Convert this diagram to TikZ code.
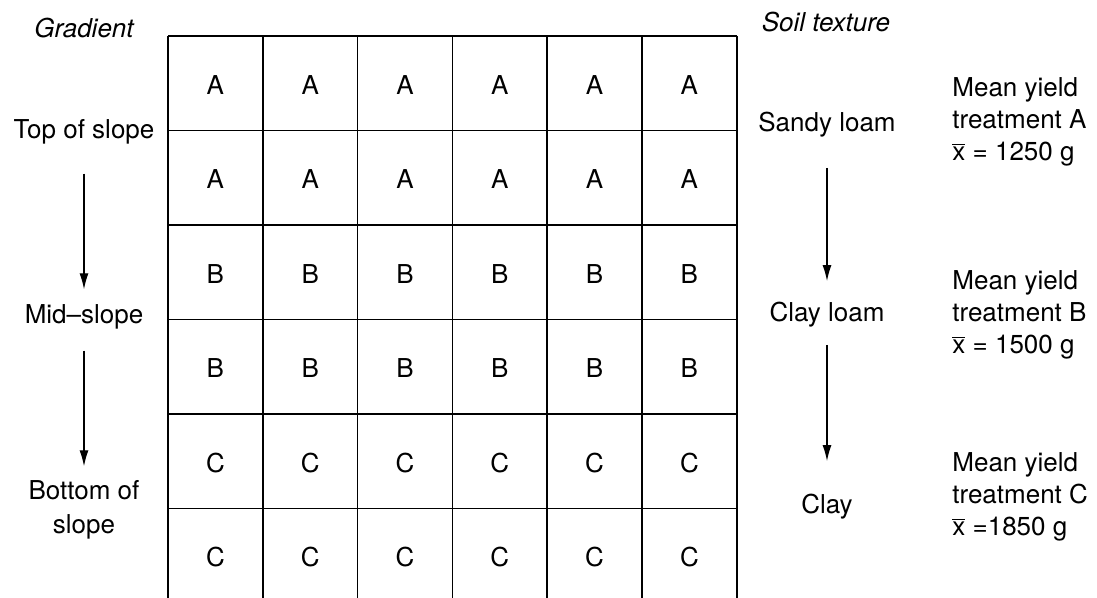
\documentclass[tikz,border=0pt]{standalone}
\usepackage{fontspec}
\setmainfont{TeX Gyre Heros}
\usetikzlibrary{arrows.meta,positioning}

\begin{document}
\begin{tikzpicture}[
  x=0.5pt, y=-0.5pt,
  font=\fontsize{13}{16}\selectfont,
  >={Latex[length=8pt,width=4.5pt]},
  lbl/.style={inner sep=0pt, align=center},
  head/.style={lbl, font=\fontsize{13}{16}\selectfont\itshape},
  yield/.style={inner sep=0pt, anchor=west, align=left},
  plot/.style={line width=0.8pt},
  arr/.style={->, line width=0.6pt}
]
  \useasboundingbox (0,0) rectangle (1097,598);

  % Field grid: 6 columns, 6 rows (bottom runs off the page)
  \foreach \j in {0,...,5}
    \draw[plot] (168,36+\j*94.5) -- (736.8,36+\j*94.5);
  \foreach \i in {0,...,6}
    \draw[plot] (168+\i*94.8,36) -- (168+\i*94.8,598);

  % Treatment letters
  \foreach \j/\t in {0/A,1/A,2/B,3/B,4/C,5/C}
    \foreach \i in {0,...,5}
      \node[lbl] (cell-\j-\i) at (168+\i*94.8+47.4,36+\j*94.5+49) {\t};

  % Gradient (left)
  \node[head] (grad) at (84,28) {Gradient};
  \node[lbl] (top) at (84,132) {Top of slope};
  \node[lbl] (mid) at (84,317) {Mid--slope};
  \node[lbl, font=\fontsize{13}{17}\selectfont] (bot) at (84,510) {Bottom of\\slope};

  \draw[arr, shorten <=14.5pt, shorten >=7.5pt] (top) -- (mid);
  \draw[arr, shorten <=10.5pt, shorten >=7pt] (mid) -- (bot);

  % Soil texture (right)
  \node[head] (soil) at (826,22) {Soil texture};
  \node[lbl] (sandy) at (827,125) {Sandy loam};
  \node[lbl] (clayloam) at (827,315) {Clay loam};
  \node[lbl] (clay) at (827,507) {Clay};

  \draw[arr, shorten <=15pt, shorten >=10.5pt] (sandy) -- (clayloam);
  \draw[arr, shorten <=8.5pt, shorten >=16.5pt] (clayloam) -- (clay);

  % Mean yields
  \node[yield] (yieldA) at (952,122) {Mean yield\\treatment A\\$\overline{\mbox{x}}$ = 1250 g};
  \node[yield] (yieldB) at (952,315) {Mean yield\\treatment B\\$\overline{\mbox{x}}$ = 1500 g};
  \node[yield] (yieldC) at (952,497) {Mean yield\\treatment C\\$\overline{\mbox{x}}$ =1850 g};

\end{tikzpicture}
\end{document}
